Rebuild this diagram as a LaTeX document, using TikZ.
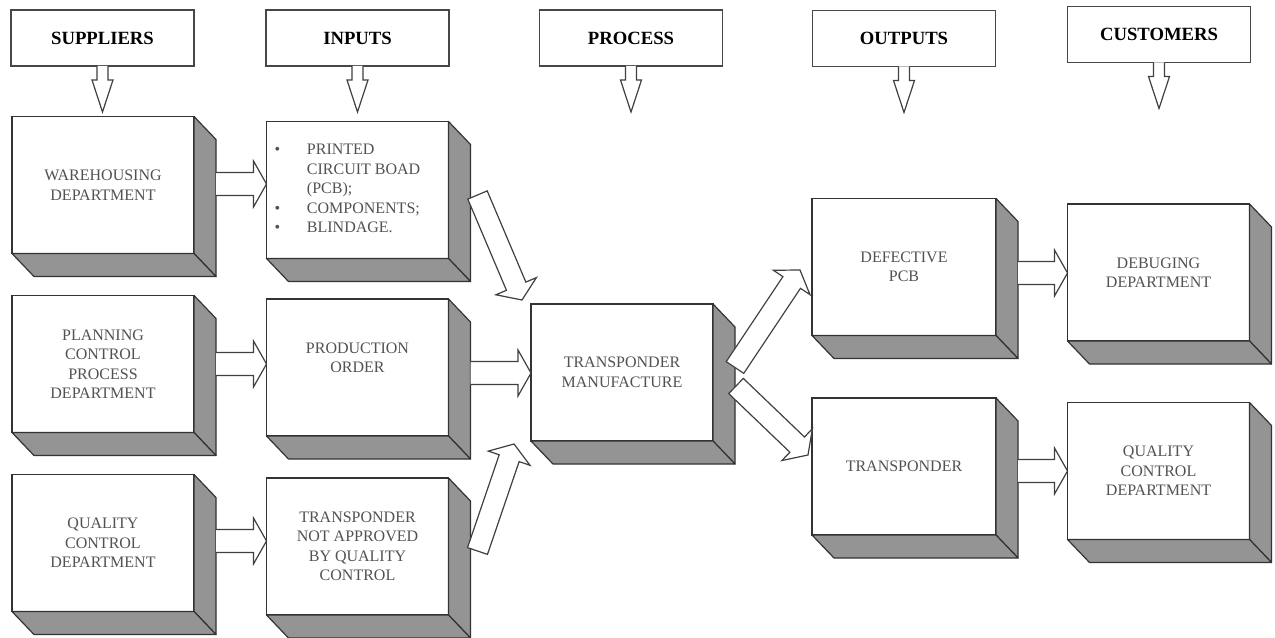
\documentclass[tikz,border=0pt]{standalone}
\usepackage{fontspec}
\setmainfont{Liberation Serif}
\usetikzlibrary{calc}

\tikzset{
  slab/.style={draw=black!80, line width=1.1pt, fill=white, inner sep=0pt, outer sep=0pt,
    minimum width=136.5pt, minimum height=102.75pt, align=center, text=black!68,
    font=\fontsize{12}{14.6}\selectfont},
  face/.style={draw=black!80, line width=0.9pt, fill=black!42, line join=round},
  headbox/.style={draw=black!72, line width=1.3pt, fill=white, inner sep=0pt, outer sep=0pt,
    minimum width=137.25pt, minimum height=42pt, font=\fontsize{14}{16}\selectfont\bfseries},
  arrowline/.style={draw=black!75, line width=0.9pt, fill=white, line join=miter},
}

% downward arrow hanging from a heading box
\newcommand\droparrow[1]{%
  \draw[arrowline] ($(#1.south)+(-5.5,0)$) -- ($(#1.south)+(-5.5,14)$) -- ($(#1.south)+(-10.5,14)$)
    -- ($(#1.south)+(0,46)$) -- ($(#1.south)+(10.5,14)$) -- ($(#1.south)+(5.5,14)$)
    -- ($(#1.south)+(5.5,0)$);
}
% horizontal block arrow from the side face of #1 to the front of #2, at height #3
\newcommand\flatarrow[3]{%
  \coordinate (fa-y) at (0,#3);
  \coordinate (fa-a) at ($(#1.east)+(22,0)$);
  \path (fa-a |- fa-y) coordinate (fa-s) (#2.west |- fa-y) coordinate (fa-t);
  \draw[arrowline] ($(fa-s)+(0,-11.5)$) -- ($(fa-t)+(-13,-11.5)$) -- ($(fa-t)+(-13,-23)$)
    -- (fa-t) -- ($(fa-t)+(-13,23)$) -- ($(fa-t)+(-13,11.5)$) -- ($(fa-s)+(0,11.5)$);
}
% slanted block arrow from coordinate #1 to tip #2
\newcommand\slantarrow[2]{%
  \coordinate (sa-b) at ($(#2)!11.25pt!(#1)$);
  \draw[arrowline] ($(#1)!7.9pt!90:(#2)$) -- ($(sa-b)!7.9pt!90:(#2)$) -- ($(sa-b)!16.5pt!90:(#2)$)
    -- (#2) -- ($(sa-b)!16.5pt!-90:(#2)$) -- ($(sa-b)!7.9pt!-90:(#2)$)
    -- ($(#1)!7.9pt!-90:(#2)$) -- cycle;
}

\begin{document}
\begin{tikzpicture}[x=0.75pt,y=-0.75pt]
\useasboundingbox (0,0) rectangle (1275,638);
\fill[white] (0,0) rectangle (1275,638);

% column headings
\node[headbox] (hs) at (102.5,38) {SUPPLIERS};
\node[headbox] (hi) at (357.5,38) {INPUTS};
\node[headbox] (hp) at (631,38) {PROCESS};
\node[headbox] (ho) at (904,38.5) {OUTPUTS};
\node[headbox] (hc) at (1159,34.5) {CUSTOMERS};

% suppliers
\node[slab] (wh) at (103,185) {WAREHOUSING\\DEPARTMENT};
\node[slab] (pl) at (103,364) {PLANNING\\CONTROL\\PROCESS\\DEPARTMENT};
\node[slab] (qcs) at (103,543) {QUALITY\\CONTROL\\DEPARTMENT};

% inputs
\node[slab] (mat) at (357.5,190) {\begin{tabular}{@{}l@{\hspace{20pt}}l@{}}
  \textbullet & PRINTED\\
              & CIRCUIT BOAD\\
              & (PCB);\\
  \textbullet & COMPONENTS;\\
  \textbullet & BLINDAGE.
\end{tabular}\hspace*{15pt}};
\node[slab] (po) at (357.5,367.5) {PRODUCTION\\ORDER\\~};
\node[slab] (tna) at (357.5,546.5) {TRANSPONDER\\NOT APPROVED\\BY QUALITY\\CONTROL};

% process
\node[slab] (tm) at (622,372.5) {TRANSPONDER\\MANUFACTURE};

% outputs
\node[slab, minimum width=138pt] (dpcb) at (904,267) {DEFECTIVE\\PCB};
\node[slab, minimum width=138pt] (tr) at (904,466.5) {TRANSPONDER};

% customers
\node[slab] (dbg) at (1158.5,272.5) {DEBUGING\\DEPARTMENT};
\node[slab] (qcc) at (1158.5,471) {QUALITY\\CONTROL\\DEPARTMENT};

% extruded side and bottom faces
\foreach \n in {wh,pl,qcs,mat,po,tna,tm,dpcb,tr,dbg,qcc} {
  \filldraw[face] (\n.north east) -- ($(\n.north east)+(22,23)$) -- ($(\n.south east)+(22,23)$) -- (\n.south east) -- cycle;
  \filldraw[face] (\n.south west) -- (\n.south east) -- ($(\n.south east)+(22,23)$) -- ($(\n.south west)+(22,23)$) -- cycle;
}

% heading arrows
\foreach \h in {hs,hi,hp,ho,hc} { \droparrow{\h} }

% straight flows
\flatarrow{wh}{mat}{184}
\flatarrow{pl}{po}{364}
\flatarrow{qcs}{tna}{541}
\flatarrow{po}{tm}{373}
\flatarrow{dpcb}{dbg}{273}
\flatarrow{tr}{qcc}{471}

% slanted flows
\coordinate (s1) at ($(mat.east)+(29,5)$);
\coordinate (t1) at ($(tm.north west)+(-9,-4)$);
\slantarrow{s1}{t1}
\coordinate (s2) at ($(tna.east)+(29,4.5)$);
\coordinate (t2) at ($(tm.south west)+(-17,3)$);
\slantarrow{s2}{t2}
\coordinate (s3) at ($(tm.east)+(22,-5)$);
\coordinate (t3) at ($(dpcb.west)+(-12,3)$);
\slantarrow{s3}{t3}
\coordinate (s4) at ($(tm.east)+(23,13.5)$);
\coordinate (t4) at ($(tr.west)+(-4,-11.5)$);
\slantarrow{s4}{t4}
\end{tikzpicture}
\end{document}
